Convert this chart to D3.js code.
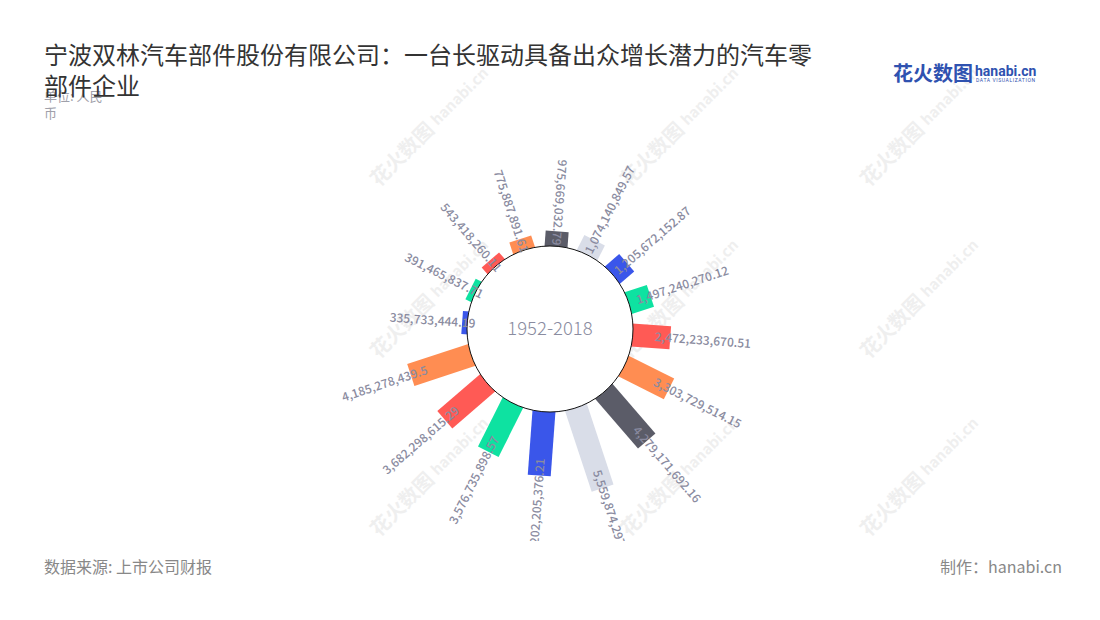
<!DOCTYPE html>
<html><head><meta charset="utf-8">
<script src="https://cdn.jsdelivr.net/npm/d3@7/dist/d3.min.js"></script>
<style>
html,body{margin:0;padding:0;background:#fff;}
svg{display:block;font-family:"Noto Sans CJK SC","Noto Sans",sans-serif;}
</style></head>
<body>
<svg id="chart" width="1100" height="620"></svg>
<script>
// ---- data (clockwise, starting at the left) ----
const labels = ["335,733,444.19","391,465,837.71","543,418,260.11","775,887,891.61","975,669,032.79",
  "1,074,140,849.57","1,205,672,152.87","1,497,240,270.12","2,472,233,670.51","3,303,729,514.15",
  "4,279,171,692.16","5,559,874,297.3","4,202,205,376.21","3,576,735,898.57","3,682,298,615.29","4,185,278,439.5"];
const values = [335733444.19,391465837.71,543418260.11,775887891.61,975669032.79,
  1074140849.57,1205672152.87,1497240270.12,2472233670.51,3303729514.15,
  4279171692.16,5559874297.3,4202205376.21,3576735898.57,3682298615.29,4185278439.5];
const palette = ["#3a56ea","#0ee2a1","#ff5a55","#ff8d52","#5b5c68","#d9dde8"];
const periodLabel = "1952-2018";
const titleLines = ["宁波双林汽车部件股份有限公司：一台长驱动具备出众增长潜力的汽车零","部件企业"];
const unitLines = ["单位: 人民","币"];
const sourceText = "数据来源: 上市公司财报";
const creditText = "制作：hanabi.cn";

const svg = d3.select("#chart");
const cx = 550, cy = 329, R = 83, barW = 23;
const n = values.length;

// watermarks
const wm = svg.append("g").attr("fill","#efefef");
[150,322,500].forEach(y=>{
  [405,655,895].forEach(x=>{
    const g = wm.append("g").attr("transform",`translate(${x},${y}) rotate(-45)`);
    g.append("text").attr("x",-45).attr("y",8).attr("font-size",20).attr("font-weight","bold").text("花火数图");
    g.append("text").attr("x",40).attr("y",6).attr("font-size",15).attr("font-weight","bold").text("hanabi.cn");
  });
});

// title
const unit = svg.append("text").attr("fill","#a0a0aa").attr("font-size",13);
unitLines.forEach((t,i)=>unit.append("tspan").attr("x",44).attr("y",101+i*17).text(t));
const title = svg.append("text").attr("fill","#333").attr("font-size",24);
titleLines.forEach((t,i)=>title.append("tspan").attr("x",44).attr("y",64+i*31).text(t));

// logo
const logo = svg.append("g");
logo.append("text").attr("x",893).attr("y",81).attr("font-size",20).attr("font-weight","bold").attr("fill","#2f52b0").text("花火数图");
logo.append("text").attr("x",975).attr("y",76).attr("font-size",14).attr("font-weight","bold").attr("fill","#2f52b0").attr("font-family","Roboto, sans-serif").text("hanabi.cn");
logo.append("text").attr("x",976).attr("y",82).attr("font-size",5).attr("fill","#2f52b0").attr("letter-spacing",0.6).attr("font-family","Roboto, sans-serif").text("DATA VISUALIZATION");

// footer
svg.append("text").attr("x",44).attr("y",573).attr("font-size",16).attr("fill","#888").text(sourceText);
svg.append("text").attr("x",1062).attr("y",573).attr("font-size",16).attr("fill","#888").attr("text-anchor","end").text(creditText);

// scales
const angle = d3.scaleLinear().domain([0,n]).range([-85.8, 274.2]);
const rBar = d3.scaleLinear().domain([0, d3.max(values)]).range([R, R+84.5]);
const rLab = d3.scaleLinear().domain([0, d3.max(values)]).range([70, 149]);

svg.append("defs").append("clipPath").attr("id","clip")
  .append("rect").attr("x",0).attr("y",120).attr("width",1100).attr("height",421);

const chart = svg.append("g").attr("clip-path","url(#clip)");
const plot = chart.append("g").attr("transform",`translate(${cx},${cy})`);

const items = values.map((v,i)=>({v, i, label: labels[i], a: angle(i)}));

plot.selectAll("rect.bar").data(items).join("rect")
  .attr("class","bar")
  .attr("transform",d=>`rotate(${d.a-90})`)
  .attr("x",R-12).attr("y",-barW/2)
  .attr("width",d=>rBar(d.v)-(R-12)).attr("height",barW)
  .attr("fill",d=>palette[d.i%palette.length]);

plot.append("circle").attr("r",R).attr("fill","#fff").attr("stroke","#111").attr("stroke-width",1);

plot.append("text").attr("text-anchor","middle").attr("y",6).attr("font-size",18.5)
  .attr("font-weight",300).attr("fill","#8a8ca0").text(periodLabel);

function flipped(a){
  const b = ((a - 4.2) % 360 + 360) % 360;
  return b > 179.9 || b < 0.1;
}
plot.selectAll("text.lab").data(items).join("text")
  .attr("class","lab")
  .attr("transform",d=>flipped(d.a) ? `rotate(${d.a-90}) rotate(180)` : `rotate(${d.a-90})`)
  .attr("x",d=>flipped(d.a) ? -rLab(d.v) : rLab(d.v))
  .attr("dy","0.35em")
  .attr("text-anchor",d=>flipped(d.a) ? "end" : "start")
  .attr("font-size",12).attr("font-weight",500).attr("fill","#8a8ba0")
  .text(d=>d.label);
</script>
</body></html>
